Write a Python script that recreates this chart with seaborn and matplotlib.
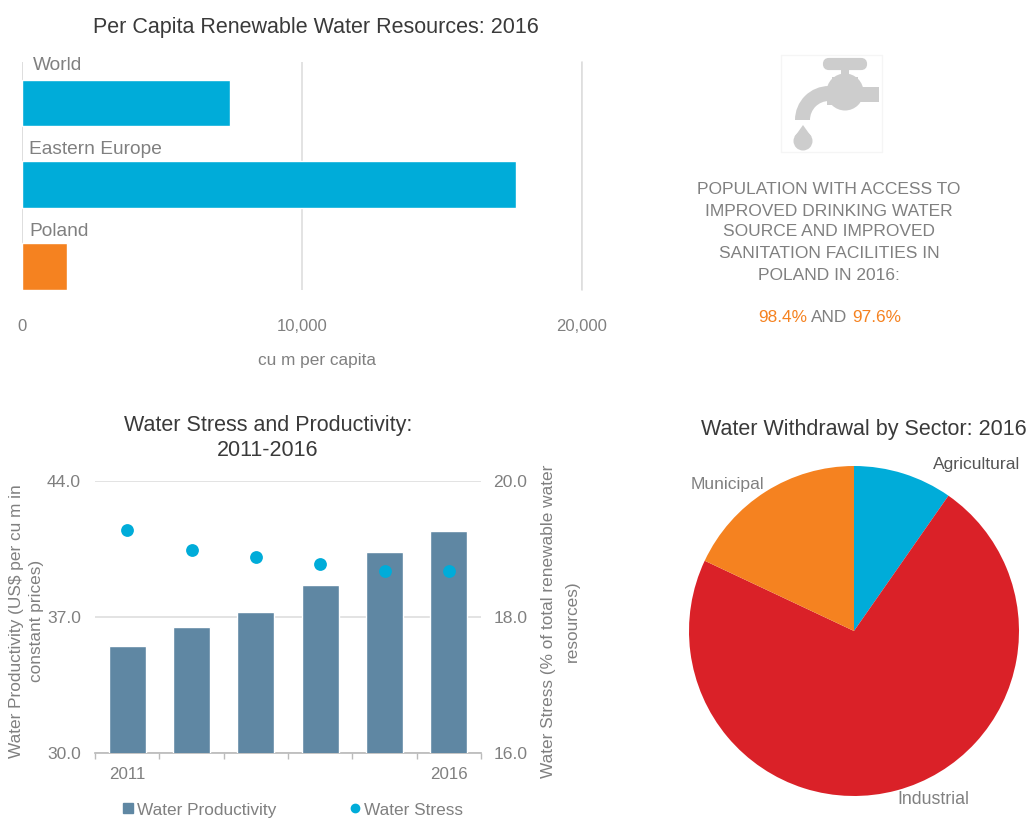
import matplotlib
matplotlib.use('Agg')
import matplotlib.pyplot as plt
import seaborn as sns
from matplotlib.lines import Line2D
from matplotlib.patches import Circle, Ellipse, FancyBboxPatch, Polygon, Rectangle, Wedge

W, H = 1030, 818

# data
regions = ['World', 'Eastern Europe', 'Poland']
renewable = [7430, 17640, 1600]
years = ['2011', '2012', '2013', '2014', '2015', '2016']
year_labels = ['2011', '', '', '', '', '2016']
productivity = [35.5, 36.5, 37.25, 38.65, 40.35, 41.45]
stress = [19.28, 18.99, 18.88, 18.78, 18.68, 18.68]
sectors = ['Agricultural', 'Industrial', 'Municipal']
withdrawal = [9.7, 72.3, 18.0]

BLUE = '#00ACD9'
ORANGE = '#F58220'
STEEL = '#5F87A3'
RED = '#DA2128'
GREY = '#808080'
DARK = '#3A3A3A'
GRID = '#DEDEDE'

sns.set_theme(style='white')
plt.rcParams['font.family'] = ['Liberation Sans', 'DejaVu Sans']


def px_axes(fig, left, top, right, bottom):
    return fig.add_axes([left / W, 1 - bottom / H, (right - left) / W, (bottom - top) / H])


def put(fig, x, y, s, size=12.4, color=GREY, ha='center', **kw):
    fig.text(x / W, 1 - y / H, s, fontsize=size, color=color, ha=ha, va='center', **kw)


fig = plt.figure(figsize=(W / 100, H / 100), dpi=100)

# top bars
ax = px_axes(fig, 22, 62, 582, 290)
sns.barplot(x=renewable, y=regions, hue=regions, palette=[BLUE, BLUE, ORANGE], saturation=1,
            width=0.57, legend=False, ax=ax, zorder=3)
ax.set_xlim(0, 20000)
ax.set_ylim(2.287, -0.5)
ax.set_xticks([0, 10000, 20000])
ax.set_xticklabels(['0', '10,000', '20,000'], fontsize=12, color=GREY)
ax.set_yticks([])
ax.set_xlabel('')
ax.set_ylabel('')
ax.tick_params(axis='x', length=0, pad=21)
ax.grid(axis='x', color=GRID, lw=1.2)
ax.set_axisbelow(True)
sns.despine(ax=ax, left=True, bottom=True)
ax.axvline(0, color=GRID, lw=1.2, zorder=1)
ax.axvline(20000, color=GRID, lw=1.2, zorder=1, clip_on=False)
put(fig, 33, 65, regions[0], size=13.8, ha='left')
put(fig, 29, 149, regions[1], size=13.8, ha='left')
put(fig, 29, 231, regions[2], size=13.8, ha='left')
put(fig, 317, 361, 'cu m per capita', size=12.4)
put(fig, 316, 28, 'Per Capita Renewable Water Resources: 2016', size=15.5, color=DARK)

# bottom combo chart
ax2 = px_axes(fig, 95, 481, 481, 753)
sns.barplot(x=years, y=productivity, color=STEEL, saturation=1, width=0.58, ax=ax2, zorder=3)
ax2.set_xlim(-0.5, 5.5)
ax2.set_ylim(30, 44)
ax2.set_yticks([30, 37, 44])
ax2.set_yticklabels(['30.0', '37.0', '44.0'], fontsize=12.6, color=GREY)
ax2.set_xticks(range(6))
ax2.set_xticklabels(year_labels, fontsize=12.2, color=GREY)
ax2.set_xticks([i - 0.5 for i in range(7)], minor=True)
ax2.tick_params(axis='x', which='major', length=0, pad=10)
ax2.tick_params(axis='x', which='minor', length=4, width=1, color='#BBBBBB', bottom=True)
ax2.tick_params(axis='y', length=0, pad=10)
ax2.grid(axis='y', color=GRID, lw=1.2)
ax2.set_axisbelow(True)
ax2.set_xlabel('')
ax2.set_ylabel('')
sns.despine(ax=ax2, left=True, right=True, top=True)
ax2.spines['bottom'].set_color('#BBBBBB')

ax3 = ax2.twinx()
sns.scatterplot(x=years, y=stress, color=BLUE, s=85, linewidth=0, ax=ax3, zorder=4, clip_on=False)
ax3.set_ylim(16, 20)
ax3.set_yticks([16, 18, 20])
ax3.set_yticklabels(['16.0', '18.0', '20.0'], fontsize=12.6, color=GREY)
ax3.tick_params(axis='y', length=0, pad=9)
ax3.set_ylabel('')
ax3.grid(False)
sns.despine(ax=ax3, left=True, right=True, top=True, bottom=True)

put(fig, 17, 621, 'Water Productivity (US$ per cu m in', rotation=90)
put(fig, 37, 621, 'constant prices)', rotation=90)
put(fig, 549, 621, 'Water Stress (% of total renewable water', rotation=90)
put(fig, 572, 621, 'resources)', rotation=90)
put(fig, 268, 426, 'Water Stress and Productivity:', size=15.5, color=DARK)
put(fig, 268, 451, '2011-2016', size=15.5, color=DARK)

handles = [Line2D([], [], marker='s', ls='', color=STEEL, ms=6.5),
           Line2D([], [], marker='o', ls='', color=BLUE, ms=6)]
fig.legend(handles, ['Water Productivity', 'Water Stress'], loc='center', ncol=2,
           bbox_to_anchor=(287 / W, 1 - 810 / H), frameon=False, fontsize=12.4,
           labelcolor=GREY, handletextpad=-0.5, columnspacing=3.6, borderpad=0)

# pie
ax4 = px_axes(fig, 689, 466, 1019, 796)
ax4.pie(withdrawal, colors=[BLUE, RED, ORANGE], startangle=90, counterclock=False, radius=1,
        wedgeprops={'linewidth': 0})
ax4.set_xlim(-1, 1)
ax4.set_ylim(-1, 1)
put(fig, 864, 429, 'Water Withdrawal by Sector: 2016', size=15.5, color=DARK)
put(fig, 977, 465, sectors[0], size=12.6, color='#555555')
put(fig, 933, 800, sectors[1], size=12.8)
put(fig, 727, 485, sectors[2], size=12.6)

# tap icon, in pixel space
icon = fig.add_axes([0, 0, 1, 1], zorder=5)
icon.set_xlim(0, W)
icon.set_ylim(H, 0)
icon.axis('off')
TAP = '#CDCDCD'
icon.add_patch(Rectangle((781, 55), 101, 97, fill=False, ec='#F5F5F5', lw=1))
icon.add_patch(FancyBboxPatch((825, 60), 40, 8, boxstyle='round,pad=0,rounding_size=4', fc=TAP, ec=TAP, lw=3))
icon.add_patch(Circle((845, 64), 6, fc=TAP, ec='none'))
icon.add_patch(Rectangle((841, 66), 8, 14, fc=TAP, ec='none'))
icon.add_patch(Ellipse((845, 92), 37, 37, fc=TAP, ec='none'))
icon.add_patch(Rectangle((832, 77), 26, 14, fc=TAP, ec='none'))
icon.add_patch(Rectangle((848, 87), 31, 15, fc=TAP, ec='none'))
# spout: outer arc cut by an inner arc
icon.add_patch(Wedge((829, 120), 34, 180, 270, width=15, fc=TAP, ec='none'))
icon.add_patch(Rectangle((827, 86), 8, 19, fc=TAP, ec='none'))
icon.add_patch(Circle((803, 141), 9.5, fc=TAP, ec='none'))
icon.add_patch(Polygon([(803, 125), (794.5, 137), (811.5, 137)], fc=TAP, ec='none'))

# access note
note = ['POPULATION WITH ACCESS TO', 'IMPROVED DRINKING WATER', 'SOURCE AND IMPROVED',
        'SANITATION FACILITIES IN', 'POLAND IN 2016:']
for line, y in zip(note, [189, 211, 232, 253, 275]):
    put(fig, 829, y, line, size=12.5)
put(fig, 758, 317, '98.4%', color=ORANGE, ha='left')
put(fig, 811, 317, 'AND', ha='left')
put(fig, 852, 317, '97.6%', color=ORANGE, ha='left')

fig.savefig('out.png', dpi=100)
plt.close(fig)
